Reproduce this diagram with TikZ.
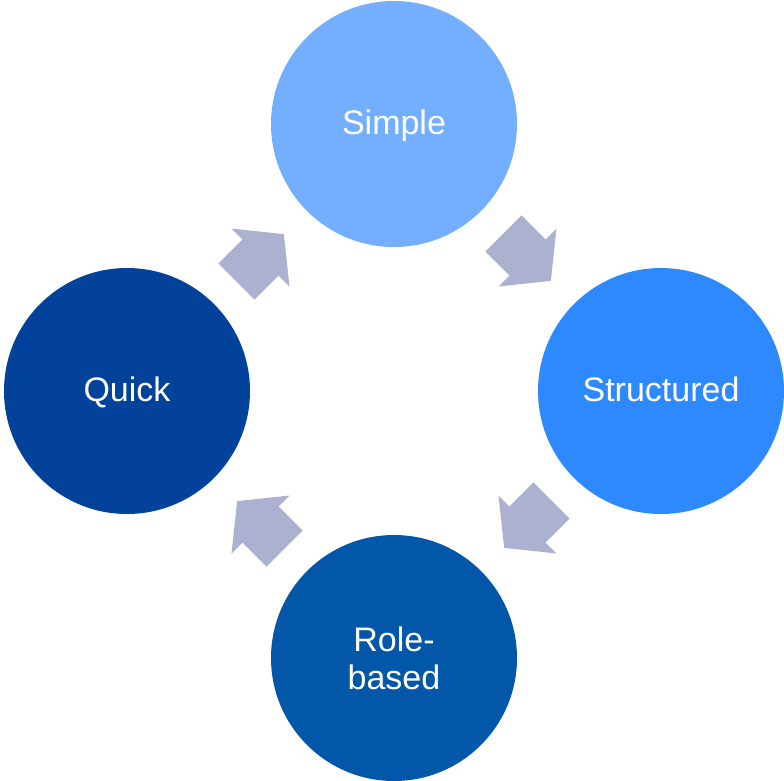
\documentclass[tikz,border=0pt]{standalone}
\usepackage{fontspec}
\setmainfont{Liberation Sans}
\usetikzlibrary{calc}
\definecolor{cSimple}{HTML}{74AFFF}
\definecolor{cStructured}{HTML}{2E89FF}
\definecolor{cRole}{HTML}{0357A8}
\definecolor{cQuick}{HTML}{02429A}
\definecolor{arrowcol}{HTML}{ABB1CE}
\tikzset{
  bubble/.style={circle, minimum size=246pt, inner sep=0pt, text=white,
    font=\fontsize{34}{38}\selectfont, align=center},
  oneline/.style={text height=21pt, text depth=0pt},
  pics/flowarrow/.style={code={
    \fill[arrowcol] (-34,-25.5) -- (0,-25.5) -- (0,-41) -- (33,0) -- (0,41) -- (0,25.5) -- (-34,25.5) -- cycle;}}
}
\begin{document}
\begin{tikzpicture}[x=1pt,y=-1pt]
\useasboundingbox (0,0) rectangle (784,780);
\node[bubble, oneline, fill=cSimple] (simple) at (394,124) {Simple};
\node[bubble, oneline, fill=cStructured] (structured) at (661,391) {Structured};
\node[bubble, fill=cRole] (role) at (394,658) {Role-\\based};
\node[bubble, oneline, fill=cQuick] (quick) at (127,391) {Quick};
\pic[rotate=-45] at ($(simple)!0.5!(structured)$) {flowarrow};
\pic[rotate=-135] at ($(structured)!0.5!(role)$) {flowarrow};
\pic[rotate=135] at ($(role)!0.5!(quick)$) {flowarrow};
\pic[rotate=45] at ($(quick)!0.5!(simple)$) {flowarrow};
\end{tikzpicture}
\end{document}
